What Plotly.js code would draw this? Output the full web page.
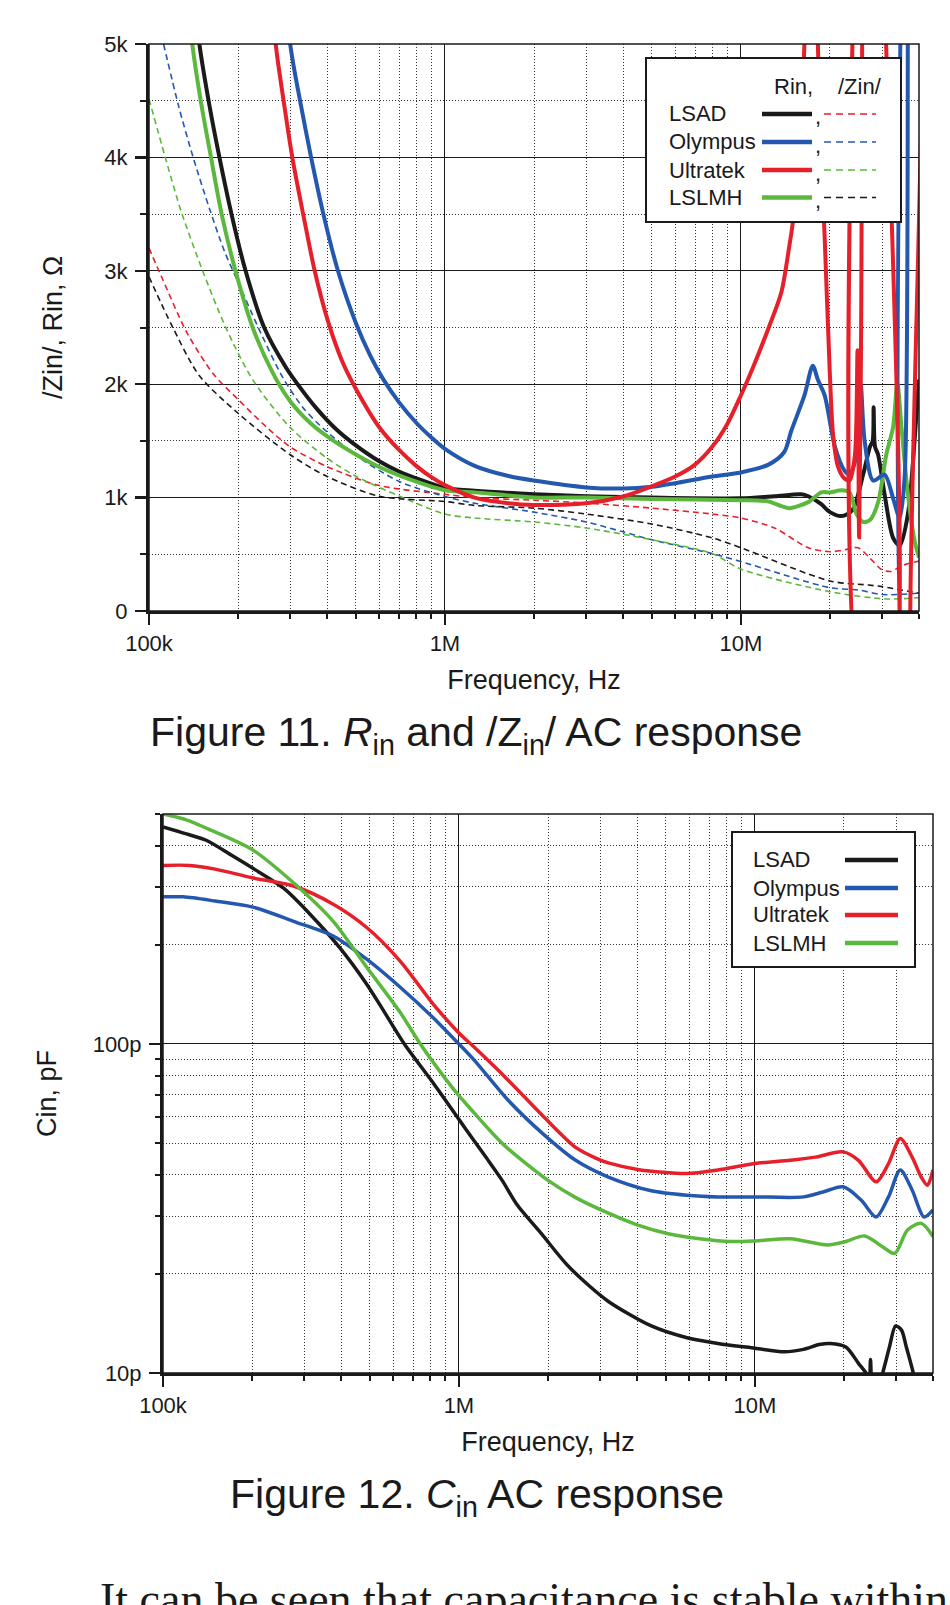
<!DOCTYPE html>
<html>
<head>
<meta charset="utf-8">
<script src="https://cdn.plot.ly/plotly-3.0.1.min.js"></script>
<style>
html,body{margin:0;padding:0;background:#ffffff;}
#chart{width:950px;height:1605px;}
</style>
</head>
<body>
<div id="chart"></div>
<script>
// ===================== Figure 11 data (Hz, Ohm) =====================
const seriesNames = ["LSAD", "Olympus", "Ultratek", "LSLMH"];

const lsadRinHz = [135e3,148e3,160e3,173e3,190e3,212e3,245e3,290e3,320e3,370e3,430e3,500e3,600e3,700e3,800e3,1e6,1.26e6,2e6,3e6,5e6,10e6,13e6,16e6,16.9e6,18.7e6,20e6,21.9e6,23.8e6,25.9e6,27.3e6,27.9e6,28.1e6,28.4e6,29.1e6,30.6e6,32.7e6,34.4e6,36.7e6,39.2e6,40e6];
const lsadRinOhm = [6000,5000,4460,4000,3500,3000,2500,2150,1990,1780,1600,1460,1320,1230,1170,1085,1060,1030,1012,1000,994,1012,1029,1012,942,872,837,889,1203,1448,1500,1796,1450,1378,1029,645,576,855,1727,2041];

const olympusRinHz = [280e3,300e3,325e3,353e3,390e3,435e3,500e3,560e3,620e3,700e3,800e3,900e3,1e6,1.26e6,1.64e6,2e6,3e6,4e6,5e6,6e6,8e6,10e6,12.4e6,14e6,14.8e6,16.4e6,17.5e6,18.2e6,19.2e6,20.8e6,22.4e6,23.3e6,24.6e6,25.4e6,26.2e6,28e6,30.6e6,32.7e6,34.4e6,35.8e6,36.6e6,37.1e6,40e6];
const olympusRinOhm = [6000,5000,4480,4000,3480,3000,2540,2250,2040,1840,1660,1530,1430,1280,1190,1150,1090,1080,1095,1127,1186,1221,1291,1400,1587,1901,2163,2041,1901,1448,1238,1203,1378,2000,1500,1150,1203,994,820,1203,9000,-1000,-1000];

const ultratekRinHz = [250e3,268e3,285e3,305e3,333e3,363e3,402e3,450e3,500e3,600e3,700e3,800e3,900e3,1e6,1.26e6,1.64e6,2e6,3e6,4e6,5e6,6e6,7e6,8e6,9e6,10e6,11e6,12.4e6,13.7e6,14.6e6,15.0e6,15.8e6,16.4e6,16.8e6,17.6e6,18.0e6,18.7e6,19.2e6,20e6,20.5e6,21.3e6,22.4e6,23.3e6,24.3e6,24.8e6,25.1e6,25.5e6,26.0e6,26.4e6,31.6e6,32.0e6,38.1e6,38.5e6,40e6];
const ultratekRinOhm = [6000,5000,4500,4000,3480,3000,2560,2200,1960,1620,1420,1280,1180,1110,1000,950,935,950,1010,1100,1186,1291,1448,1650,1900,2150,2494,2808,3227,3436,4170,5000,7000,7000,5500,4000,3296,2075,1552,1273,1168,1151,1378,2300,650,2500,9000,-1000,-1000,9000,9000,-1000,-1000];

const lslmhRinHz = [128e3,140e3,150e3,162e3,176e3,196e3,224e3,262e3,300e3,350e3,400e3,500e3,600e3,800e3,1e6,1.26e6,2e6,3e6,5e6,10e6,12.4e6,13.7e6,14.6e6,16.9e6,18.7e6,20e6,21.9e6,23.3e6,24.6e6,25.9e6,27.3e6,29.1e6,31.0e6,32.7e6,33.8e6,34.9e6,36.7e6,38.7e6,40e6];
const lslmhRinOhm = [6000,5000,4480,4000,3500,3000,2500,2100,1850,1660,1540,1380,1270,1140,1065,1046,1001,1001,987,977,966,925,907,960,1046,1046,1064,1046,855,785,802,959,1378,1622,2006,1622,1029,611,471];

const lsadZinHz = [100e3,111e3,134e3,165e3,200e3,250e3,300e3,400e3,600e3,1e6,1.26e6,2e6,3e6,5e6,8e6,10e6,13e6,16.9e6,20e6,22.5e6,24.9e6,27e6,29.9e6,32.1e6,35e6,40e6];
const lsadZinOhm = [3200,2930,2460,2090,1866,1620,1447,1273,1106,1029,1000,977,952,907,855,820,732,558,523,540,558,480,366,349,400,440];

const olympusZinHz = [112e3,126e3,141e3,160e3,180e3,200e3,234e3,283e3,330e3,377e3,502e3,703e3,1e6,1.26e6,2e6,3e6,4e6,5e6,8e6,10e6,20e6,25e6,30e6,40e6];
const olympusZinOhm = [5000,4450,4000,3550,3170,2900,2500,2060,1800,1640,1370,1140,1010,950,872,785,698,628,506,436,205,185,145,157];

const ultratekZinHz = [100e3,113.5e3,128.6e3,152e3,182e3,224e3,299e3,402e3,502e3,703e3,1e6,1.26e6,2e6,3e6,5e6,8e6,10e6,20e6,31e6,40e6];
const ultratekZinOhm = [4517,4000,3520,2996,2497,2040,1622,1343,1186,1012,855,820,785,732,628,506,370,170,106,118];

const lslmhZinHz = [100e3,120.5e3,148e3,200e3,300e3,400e3,600e3,1e6,1.26e6,2e6,3e6,5e6,8e6,10e6,20e6,27e6,30e6,40e6];
const lslmhZinOhm = [2947,2497,2075,1744,1378,1186,1012,966,931,907,855,767,645,558,265,229,215,157];

// ===================== Figure 12 data (Hz, pF) =====================
const lsadCinHz = [100e3,120e3,140e3,170e3,200e3,255e3,314e3,396e3,488e3,560e3,654e3,820e3,1e6,1.13e6,1.24e6,1.4e6,1.57e6,1.9e6,2.3e6,2.7e6,3.2e6,4.47e6,5.9e6,7.5e6,10e6,12.6e6,14.6e6,16.5e6,18e6,20.3e6,22.4e6,24.1e6,24.4e6,24.6e6,24.9e6,25.5e6,27.2e6,28.5e6,29.9e6,31.3e6,32.5e6,34.3e6,35.5e6,40e6];
const lsadCinPf = [457,435,416,375,343,298,248,196,152,125,100,76,59,50.5,45,38.5,32.5,26.5,21.5,18.7,16.5,13.9,12.8,12.3,11.9,11.6,11.8,12.2,12.3,12.0,10.7,9.8,9.4,11.0,9.0,8.5,10.2,12,13.9,13.5,12,10.0,8.5,8.5];

const olympusCinHz = [100e3,117e3,150e3,200e3,276e3,376e3,488e3,632e3,820e3,1e6,1.13e6,1.47e6,1.92e6,2.48e6,3.2e6,4.47e6,5.9e6,7.5e6,10e6,14.6e6,17e6,19.9e6,22.9e6,25.7e6,28.3e6,31e6,34e6,37.3e6,40e6];
const olympusCinPf = [280,280,272,261,236,213,181,149,120,100,89,67.3,53.4,44.3,39.4,35.8,34.7,34.3,34.3,34.3,35.5,36.8,33.5,29.8,34.3,41.4,36.0,29.8,31.3];

const ultratekCinHz = [100e3,123e3,150e3,200e3,276e3,376e3,488e3,632e3,820e3,1e6,1.13e6,1.47e6,1.92e6,2.48e6,2.9e6,3.2e6,4.06e6,5.9e6,7.5e6,10e6,13.2e6,16e6,19.9e6,22.4e6,25.7e6,28.3e6,31e6,34e6,36.5e6,38.3e6,40e6];
const ultratekCinPf = [349,349,340,320,302,266,226,179,132,108,97.5,77.5,60.5,48.5,45,43.5,41.5,40.4,41.4,43.3,44.3,45.3,47,44.3,38.1,43.3,51.6,45.3,39.4,37.2,41.4];

const lslmhCinHz = [100e3,120e3,140e3,200e3,276e3,376e3,488e3,632e3,730e3,850e3,982e3,1.13e6,1.24e6,1.43e6,2e6,2.5e6,3.2e6,4e6,5.1e6,6.5e6,8.3e6,10e6,13.2e6,17.6e6,20e6,23.5e6,27e6,29.7e6,32.8e6,36.5e6,40e6];
const lslmhCinPf = [500,480,453,390,309,236,171,125,102,84,71,61.5,56,49,38.5,34,30.6,28.2,26.5,25.6,25.1,25.2,25.6,24.5,25.0,26.1,24.2,23.1,27.2,28.5,26];

// ===================== styling =====================
const W = 950, H = 1605;
const px = x => x / W;
const py = y => 1 - y / H;
const SANS = "Liberation Sans, Arial, Helvetica, sans-serif";
const C = {black: "#1a1a1a", blue: "#2458ae", red: "#e6202a", green: "#5cb83c"};

function tr(x, y, color, width, dash, xa, ya, name) {
  return {type: "scatter", mode: "lines", x: x, y: y, name: name, xaxis: xa, yaxis: ya,
          line: {color: color, width: width, dash: dash || "solid", shape: "spline", smoothing: 0.8},
          showlegend: false, hoverinfo: "skip"};
}

const DASH = "6px,4px";
const traces = [
  tr(lsadZinHz, lsadZinOhm, C.red, 1.6, DASH, "x", "y", "LSAD /Zin/"),
  tr(olympusZinHz, olympusZinOhm, C.blue, 1.6, DASH, "x", "y", "Olympus /Zin/"),
  tr(ultratekZinHz, ultratekZinOhm, C.green, 1.6, DASH, "x", "y", "Ultratek /Zin/"),
  tr(lslmhZinHz, lslmhZinOhm, C.black, 1.6, DASH, "x", "y", "LSLMH /Zin/"),
  tr(lsadRinHz, lsadRinOhm, C.black, 4, null, "x", "y", "LSAD Rin"),
  tr(lslmhRinHz, lslmhRinOhm, C.green, 4, null, "x", "y", "LSLMH Rin"),
  tr(olympusRinHz, olympusRinOhm, C.blue, 4, null, "x", "y", "Olympus Rin"),
  tr(ultratekRinHz, ultratekRinOhm, C.red, 4, null, "x", "y", "Ultratek Rin"),
  tr(lsadCinHz, lsadCinPf, C.black, 3.5, null, "x2", "y2", "LSAD Cin"),
  tr(olympusCinHz, olympusCinPf, C.blue, 3.5, null, "x2", "y2", "Olympus Cin"),
  tr(ultratekCinHz, ultratekCinPf, C.red, 3.5, null, "x2", "y2", "Ultratek Cin"),
  tr(lslmhCinHz, lslmhCinPf, C.green, 3.5, null, "x2", "y2", "LSLMH Cin")
];

const TICK = 22, ATITLE = 27;
const minorLog = {dtick: "D1", ticks: "outside", ticklen: 5, tickwidth: 2, tickcolor: "#1a1a1a",
                  showgrid: true, gridcolor: "#333", gridwidth: 1, griddash: "1px,2px"};
function xAxis(domain, anchor) {
  return {type: "log", domain: domain, anchor: anchor, range: [5, Math.log10(4e7)],
          dtick: 1, tickformat: "~s", ticks: "outside", ticklen: 11, tickwidth: 2.5, tickcolor: "#1a1a1a",
          showline: true, linewidth: 3, linecolor: "#1a1a1a", mirror: false,
          showgrid: true, gridcolor: "#1a1a1a", gridwidth: 1, zeroline: false,
          minor: minorLog, tickfont: {family: SANS, size: TICK, color: "#1a1a1a"},
          title: {text: "Frequency, Hz", font: {family: SANS, size: ATITLE, color: "#1a1a1a"}, standoff: 15},
          automargin: false, fixedrange: true};
}

const layout = {
  width: W, height: H, margin: {l: 0, r: 0, t: 0, b: 0},
  paper_bgcolor: "#ffffff", plot_bgcolor: "#ffffff",
  font: {family: SANS, color: "#1a1a1a"},
  showlegend: false,
  xaxis: xAxis([px(149), px(919)], "y"),
  yaxis: {domain: [py(611), py(44)], anchor: "x", range: [0, 5000], dtick: 1000, tickformat: "~s",
          ticks: "outside", ticklen: 11, tickwidth: 2.5, tickcolor: "#1a1a1a",
          showline: true, linewidth: 3, linecolor: "#1a1a1a", mirror: false,
          showgrid: true, gridcolor: "#1a1a1a", gridwidth: 1, zeroline: false,
          minor: {dtick: 500, ticks: "outside", ticklen: 6, tickwidth: 2, tickcolor: "#1a1a1a",
                  showgrid: true, gridcolor: "#333", gridwidth: 1, griddash: "1px,2px"},
          tickfont: {family: SANS, size: TICK, color: "#1a1a1a"}, ticklabelstandoff: 3,
          title: {text: "/Zin/, Rin, \u03A9", font: {family: SANS, size: ATITLE, color: "#1a1a1a"}, standoff: 34},
          automargin: false, fixedrange: true},
  xaxis2: xAxis([px(163), px(933)], "y2"),
  yaxis2: {type: "log", domain: [py(1373), py(814)], anchor: "x2", range: [1, Math.log10(500)],
           dtick: 1, tickformat: "~s", ticksuffix: "p",
           ticks: "outside", ticklen: 11, tickwidth: 2.5, tickcolor: "#1a1a1a",
           showline: true, linewidth: 3, linecolor: "#1a1a1a", mirror: false,
           showgrid: true, gridcolor: "#1a1a1a", gridwidth: 1, zeroline: false,
           minor: minorLog, tickfont: {family: SANS, size: TICK, color: "#1a1a1a"}, ticklabelstandoff: 3,
           title: {text: "Cin, pF", font: {family: SANS, size: ATITLE, color: "#1a1a1a"}, standoff: 29},
           automargin: false, fixedrange: true},
  shapes: [],
  annotations: []
};

// plot frames (thin top/right borders)
layout.shapes.push({type: "rect", xref: "x domain", yref: "y domain", x0: 0, x1: 1, y0: 0, y1: 1,
                    line: {color: "#1a1a1a", width: 1.5}, fillcolor: "rgba(0,0,0,0)", layer: "above"});
layout.shapes.push({type: "rect", xref: "x2 domain", yref: "y2 domain", x0: 0, x1: 1, y0: 0, y1: 1,
                    line: {color: "#1a1a1a", width: 1.5}, fillcolor: "rgba(0,0,0,0)", layer: "above"});

function txt(text, x, y, size, opts) {
  return Object.assign({text: text, x: px(x), y: py(y), xref: "paper", yref: "paper", showarrow: false,
    xanchor: "center", yanchor: "middle", font: {family: SANS, size: size, color: "#1a1a1a"}}, opts || {});
}
function seg(x0, x1, y, color, width, dash) {
  return {type: "line", xref: "paper", yref: "paper", x0: px(x0), x1: px(x1), y0: py(y), y1: py(y),
          line: {color: color, width: width, dash: dash || "solid"}, layer: "above"};
}

// ---- Figure 11 legend
const solidColors = [C.black, C.blue, C.red, C.green];
const dashColors = [C.red, C.blue, C.green, C.black];
const rows1 = [114, 142, 170, 197.5];
const LEG = 22;
layout.shapes.push({type: "rect", xref: "paper", yref: "paper", x0: px(646), x1: px(901), y0: py(222), y1: py(58),
                    line: {color: "#1a1a1a", width: 2}, fillcolor: "#ffffff", layer: "above"});
layout.annotations.push(txt("Rin,", 793, 86, LEG));
layout.annotations.push(txt("/Zin/", 860, 86, LEG));
seriesNames.forEach((n, i) => {
  layout.annotations.push(txt(n, 667, rows1[i], LEG, {xanchor: "left"}));
  layout.shapes.push(seg(762, 812, rows1[i], solidColors[i], 4.5));
  layout.annotations.push(txt(",", 813, rows1[i] + 3, LEG, {xanchor: "left"}));
  layout.shapes.push(seg(824, 876, rows1[i], dashColors[i], 1.6, "7px,5px"));
});

// ---- Figure 12 legend
const rows2 = [860, 888, 915, 943];
layout.shapes.push({type: "rect", xref: "paper", yref: "paper", x0: px(732), x1: px(915), y0: py(967), y1: py(832),
                    line: {color: "#1a1a1a", width: 2}, fillcolor: "#ffffff", layer: "above"});
seriesNames.forEach((n, i) => {
  layout.annotations.push(txt(n, 751, rows2[i], LEG, {xanchor: "left"}));
  layout.shapes.push(seg(845, 898, rows2[i], solidColors[i], 4.5));
});

// ---- captions and body text
layout.annotations.push(txt("Figure 11. <i>R</i><sub>in</sub> and /Z<sub>in</sub>/ AC response", 476, 735, 41));
layout.annotations.push(txt("Figure 12. <i>C</i><sub>in</sub> AC response", 477, 1497, 41));
layout.annotations.push(txt("It can be seen that capacitance is stable within", 98, 1572, 46,
  {xanchor: "left", yanchor: "top", font: {family: "Liberation Serif, Times New Roman, serif", size: 46, color: "#1a1a1a"}}));

Plotly.newPlot("chart", traces, layout, {staticPlot: true, displayModeBar: false});
</script>
</body>
</html>
